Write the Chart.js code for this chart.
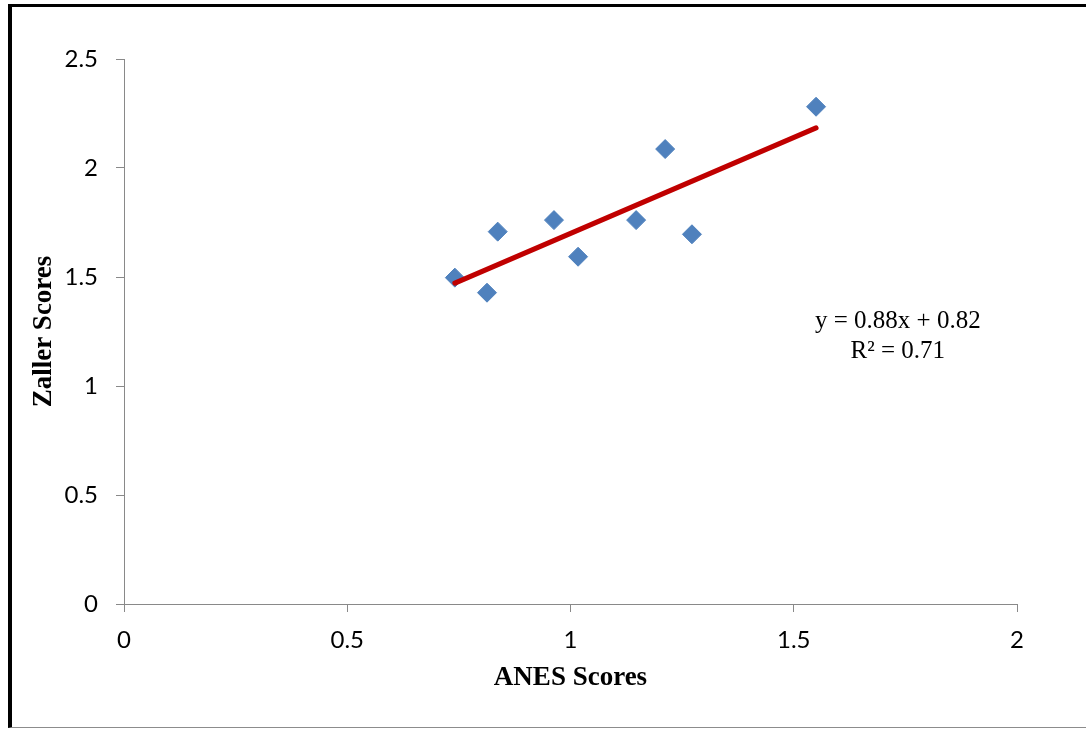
<!DOCTYPE html>
<html>
<head>
<meta charset="utf-8">
<script src="https://cdn.jsdelivr.net/npm/chart.js@4/dist/chart.umd.min.js"></script>
<style>
  html, body { margin: 0; padding: 0; background: #fff; overflow: hidden; }
  #wrap { position: relative; width: 1086px; height: 729px; }
  #frame {
    position: absolute; left: 8px; top: 4px; width: 1200px; height: 720px;
    border-left: 4px solid #000; border-top: 3px solid #000; border-bottom: 1px solid #8c8c8c;
    pointer-events: none;
  }
  canvas { position: absolute; left: 0; top: 0; }
</style>
</head>
<body>
<div id="wrap">
  <canvas id="scoreChart" width="1086" height="729"></canvas>
  <div id="frame"></div>
</div>
<script>
// ANES vs Zaller scores
const anesScores   = [0.741, 0.813, 0.837, 0.963, 1.017, 1.147, 1.212, 1.272, 1.550];
const zallerScores = [1.497, 1.428, 1.708, 1.761, 1.593, 1.761, 2.087, 1.696, 2.281];

// linear trendline
const slope = 0.88;
const intercept = 0.82;
const rSquared = 0.71;

const xTicks = [0, 0.5, 1, 1.5, 2];
const yTicks = [0, 0.5, 1, 1.5, 2, 2.5];

const points = anesScores.map((x, i) => ({ x: x, y: zallerScores[i] }));
const xMin = Math.min(...anesScores);
const xMax = Math.max(...anesScores);
const trend = [xMin, xMax].map(x => ({ x: x, y: slope * x + intercept }));

const axisGray = "#898989";
const tickFont = { family: "Lato, 'Open Sans', sans-serif", size: 24 };
const titleFont = { family: "'Liberation Serif', 'Times New Roman', serif", size: 27, weight: "bold" };

// equation label next to the trendline
const equationLabel = {
  id: "equationLabel",
  afterDatasetsDraw(chart) {
    const ctx = chart.ctx;
    const x = chart.scales.x.getPixelForValue(1.733);
    const y = chart.scales.y.getPixelForValue(1.298);
    ctx.save();
    ctx.fillStyle = "#000";
    ctx.font = "25px 'Liberation Serif', 'Times New Roman', serif";
    ctx.textAlign = "center";
    ctx.textBaseline = "middle";
    ctx.fillText("y = " + slope.toFixed(2) + "x + " + intercept.toFixed(2), x, y);
    ctx.fillText("R\u00B2 = " + rSquared.toFixed(2), x, y + 30);
    ctx.restore();
  }
};

new Chart(document.getElementById("scoreChart"), {
  type: "scatter",
  data: {
    datasets: [
      {
        type: "line",
        label: "Linear trend",
        data: trend,
        borderColor: "#C00000",
        borderWidth: 5,
        borderCapStyle: "round",
        pointRadius: 0,
        fill: false,
        order: 0
      },
      {
        label: "Scores",
        data: points,
        pointStyle: "rectRot",
        pointRadius: 9.5,
        backgroundColor: "#4F81BD",
        borderColor: "#4F81BD",
        borderWidth: 1,
        order: 1
      }
    ]
  },
  options: {
    responsive: false,
    animation: false,
    layout: { padding: { top: 59, right: 69, bottom: 0, left: 0 } },
    plugins: { legend: { display: false }, tooltip: { enabled: false } },
    scales: {
      x: {
        type: "linear",
        min: 0,
        max: 2,
        afterBuildTicks: s => { s.ticks = xTicks.map(v => ({ value: v })); },
        afterFit: s => { s.height = 125; },
        grid: { display: true, drawOnChartArea: false, drawTicks: true, tickLength: 8, color: axisGray },
        border: { display: true, color: axisGray, width: 1 },
        ticks: { color: "#000", font: tickFont, padding: 14, maxRotation: 0, callback: v => String(v) },
        title: { display: true, text: "ANES Scores", color: "#000", font: titleFont, padding: { top: 0, bottom: 35 } }
      },
      y: {
        type: "linear",
        min: 0,
        max: 2.5,
        afterBuildTicks: s => { s.ticks = yTicks.map(v => ({ value: v })); },
        afterFit: s => { s.width = 124; },
        grid: { display: true, drawOnChartArea: false, drawTicks: true, tickLength: 8, color: axisGray },
        border: { display: true, color: axisGray, width: 1 },
        ticks: { color: "#000", font: tickFont, padding: 18, callback: v => String(v) },
        title: { display: true, text: "Zaller Scores", color: "#000", font: titleFont, padding: { top: 28, bottom: 0 } }
      }
    }
  },
  plugins: [equationLabel]
});
</script>
</body>
</html>
